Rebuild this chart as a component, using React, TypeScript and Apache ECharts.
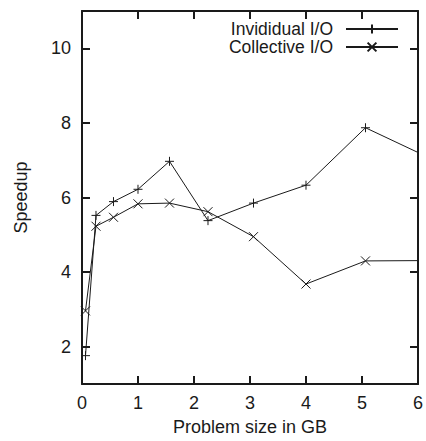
import React, { useEffect, useRef } from "react";
import * as echarts from "echarts";

const sizesGB = [0.0625, 0.25, 0.5625, 1, 1.5625, 2.25, 3.0625, 4, 5.0625, 6.25];
const individualIO = [1.76, 5.52, 5.89, 6.22, 6.97, 5.38, 5.85, 6.33, 7.87, 7.03];
const collectiveIO = [2.96, 5.23, 5.47, 5.83, 5.85, 5.62, 4.95, 3.68, 4.3, 4.31];
const xTickValues = [0, 1, 2, 3, 4, 5, 6];
const yTickValues = [2, 4, 6, 8, 10];
const seriesNames = ["Invididual I/O", "Collective I/O"];

const PLUS = "path://M5,0L5,10M0,5L10,5";
const CROSS = "path://M0,0L10,10M0,10L10,0";
const FONT = "'Liberation Sans', Arial, sans-serif";
const INK = "#1a1a1a";

export default function App() {
  const ref = useRef<HTMLDivElement>(null);
  useEffect(() => {
    if (!ref.current) return;
    const chart = echarts.init(ref.current, null, { renderer: "svg" });
    const axisLine = () => ({ show: true, onZero: false, lineStyle: { color: INK, width: 2 } });
    const tick = (vals: number[]) => ({
      show: true,
      inside: true,
      length: 8,
      customValues: vals,
      lineStyle: { color: INK, width: 2 },
    });
    const label = { color: INK, fontSize: 18, fontFamily: FONT };
    const mk = (name: string, vals: number[], sym: string) => ({
      name,
      type: "line",
      data: sizesGB.map((x, i) => [x, vals[i]]),
      symbol: sym,
      symbolSize: 9,
      symbolKeepAspect: true,
      showSymbol: true,
      clip: true,
      lineStyle: { color: INK, width: 1 },
      itemStyle: { color: INK, borderColor: INK, borderWidth: 1 },
      emphasis: { disabled: true },
    });
    chart.setOption({
      animation: false,
      grid: { left: 82, right: 7, top: 11, bottom: 55, containLabel: false },
      legend: {
        data: seriesNames,
        orient: "vertical",
        align: "right",
        right: 22,
        top: 15,
        itemWidth: 52,
        itemHeight: 11,
        itemGap: 0,
        textStyle: { color: INK, fontSize: 17.5, fontFamily: FONT, padding: [0, 8, 0, 0] },
        inactiveColor: INK,
        selectedMode: false,
      },
      xAxis: [
        {
          type: "value",
          min: 0,
          max: 6,
          interval: 1,
          name: "Problem size in GB",
          nameLocation: "middle",
          nameGap: 34,
          nameTextStyle: { color: INK, fontSize: 18, fontFamily: FONT },
          axisLine: axisLine(),
          axisTick: tick(xTickValues),
          axisLabel: { ...label, margin: 10 },
          splitLine: { show: false },
        },
        {
          type: "value",
          position: "top",
          min: 0,
          max: 6,
          interval: 1,
          axisLine: axisLine(),
          axisTick: tick(xTickValues),
          axisLabel: { show: false },
          splitLine: { show: false },
        },
      ],
      yAxis: [
        {
          type: "value",
          min: 1,
          max: 11,
          interval: 1,
          name: "Speedup",
          nameLocation: "middle",
          nameRotate: 90,
          nameGap: 52,
          nameTextStyle: { color: INK, fontSize: 18, fontFamily: FONT },
          axisLine: axisLine(),
          axisTick: tick(yTickValues),
          axisLabel: { ...label, margin: 11, customValues: yTickValues },
          splitLine: { show: false },
        },
        {
          type: "value",
          position: "right",
          min: 1,
          max: 11,
          interval: 1,
          axisLine: axisLine(),
          axisTick: tick(yTickValues),
          axisLabel: { show: false },
          splitLine: { show: false },
        },
      ],
      series: [mk(seriesNames[0], individualIO, PLUS), mk(seriesNames[1], collectiveIO, CROSS)],
    });
    return () => chart.dispose();
  }, []);
  return (
    <div
      ref={ref}
      style={{ position: "absolute", left: 0, top: 0, width: 426, height: 441, background: "#fff" }}
    />
  );
}
